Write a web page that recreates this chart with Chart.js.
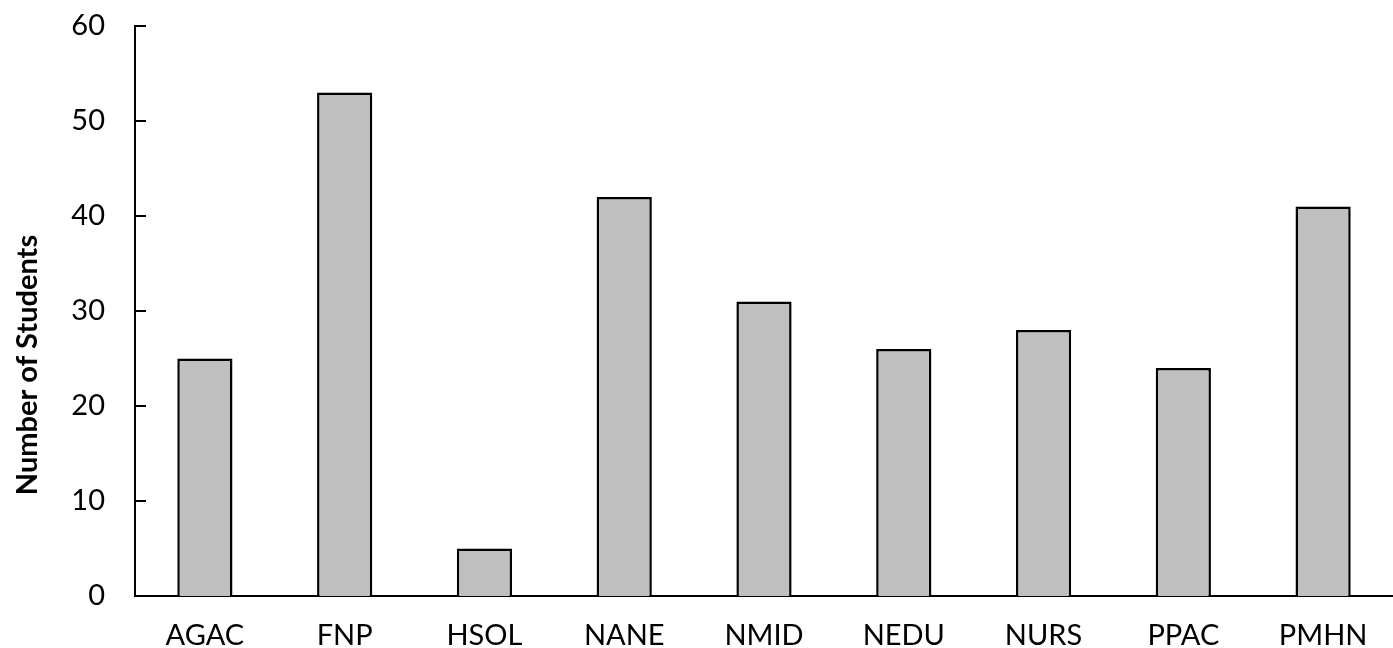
<!DOCTYPE html>
<html>
<head>
<meta charset="utf-8">
<script src="https://cdn.jsdelivr.net/npm/chart.js@4/dist/chart.umd.min.js"></script>
<style>
html,body{margin:0;padding:0;background:#fff;}
#wrap{width:1393px;height:648px;position:relative;}
</style>
</head>
<body>
<div id="wrap"><canvas id="c"></canvas></div>
<script>
const categories = ["AGAC","FNP","HSOL","NANE","NMID","NEDU","NURS","PPAC","PMHN"];
const students = [25, 53, 5, 42, 31, 26, 28, 24, 41];
const yTicks = [0, 10, 20, 30, 40, 50, 60];
const yTitle = "Number of Students";

const innerTicks = {
  id: 'innerTicks',
  afterDatasetsDraw(chart) {
    const ctx = chart.ctx;
    const y = chart.scales.y;
    const left = chart.chartArea.left;
    ctx.save();
    ctx.strokeStyle = '#000';
    ctx.lineWidth = 2;
    y.ticks.forEach(t => {
      const py = Math.round(y.getPixelForValue(t.value));
      ctx.beginPath();
      ctx.moveTo(left, py);
      ctx.lineTo(left + 11, py);
      ctx.stroke();
    });
    ctx.restore();
  }
};

const yTitlePlugin = {
  id: 'yTitlePlugin',
  afterDraw(chart) {
    const ctx = chart.ctx;
    ctx.save();
    ctx.translate(28, 365);
    ctx.rotate(-Math.PI / 2);
    ctx.textAlign = 'center';
    ctx.textBaseline = 'middle';
    ctx.fillStyle = '#000';
    ctx.font = 'bold 29px Lato';
    ctx.fillText(yTitle, 0, 0);
    ctx.restore();
  }
};

new Chart(document.getElementById('c'), {
  type: 'bar',
  data: {
    labels: categories,
    datasets: [{
      data: students,
      backgroundColor: '#bfbfbf',
      borderColor: '#000',
      borderWidth: 2.5,
      categoryPercentage: 1,
      barPercentage: 0.395
    }]
  },
  options: {
    responsive: true,
    maintainAspectRatio: false,
    animation: false,
    layout: { padding: { top: 26, right: 0, left: 0, bottom: 0 } },
    plugins: { legend: { display: false }, tooltip: { enabled: false } },
    scales: {
      x: {
        grid: { display: false, drawTicks: false },
        border: { display: true, color: '#000', width: 2 },
        ticks: { color: '#000', font: { family: 'Lato', size: 29 }, padding: 22, maxRotation: 0 },
        afterFit(s) { s.height = 52; s.paddingTop = 0; s.paddingBottom = 0; }
      },
      y: {
        min: 0, max: 60,
        afterBuildTicks(s) { s.ticks = yTicks.map(v => ({ value: v })); },
        grid: { display: false, drawTicks: false },
        border: { display: true, color: '#000', width: 2 },
        ticks: { color: '#000', font: { family: 'Lato', size: 29 }, padding: 30 },
        title: { display: false },
        afterFit(s) { s.width = 135; s.paddingTop = 0; s.paddingBottom = 0; }
      }
    }
  },
  plugins: [innerTicks, yTitlePlugin]
});
</script>
</body>
</html>
